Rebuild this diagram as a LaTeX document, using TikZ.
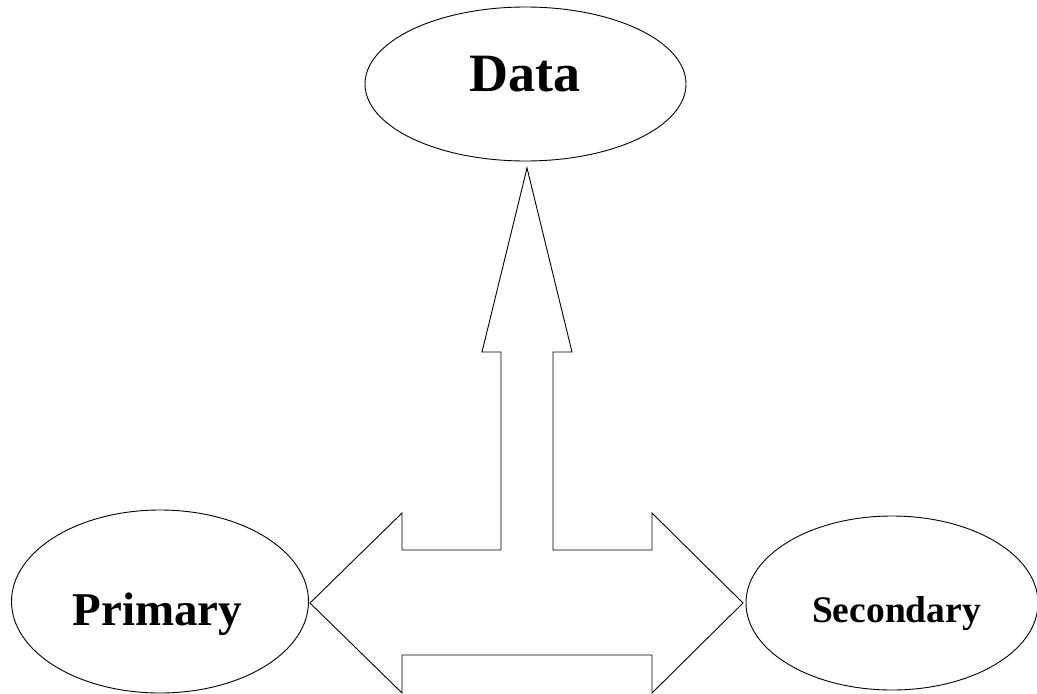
\documentclass[tikz,border=0pt]{standalone}
\usepackage{fontspec}
\setmainfont{Liberation Serif}
\usetikzlibrary{shapes.geometric}
\tikzset{
  blob/.style={draw=black, line width=0.9pt, ellipse, inner sep=0pt, fill=white},
  caption/.style={font=\bfseries, anchor=base, inner sep=0pt},
  bigarrow/.style={draw=black, line width=0.9pt, line join=miter, fill=white}
}
\begin{document}
\begin{tikzpicture}[x=1pt,y=-1pt]
  \clip (0,0) rectangle (1037,694);
  \fill[white] (0,0) rectangle (1037,694);

  % the three ellipses
  \node[blob, minimum width=321pt, minimum height=154pt] (data) at (525.5,84) {};
  \node[blob, minimum width=297pt, minimum height=183pt] (primary) at (160,601.5) {};
  \node[blob, minimum width=292pt, minimum height=174pt] (secondary) at (892,603) {};

  % their labels
  \node[caption, font=\bfseries\fontsize{54}{60}\selectfont] (datalabel) at (525,91) {Data};
  \node[caption, font=\bfseries\fontsize{47}{52}\selectfont] (primarylabel) at (157.5,625) {Primary};
  \node[caption, font=\bfseries\fontsize{37.5}{42}\selectfont] (secondarylabel) at (896.5,622) {Secondary};

  % corner points of the three-way block arrow
  \coordinate (up) at (527,168);
  \coordinate (left) at (310,603);
  \coordinate (right) at (743,603);

  \draw[bigarrow]
    (up) -- (572,352) -- (553,352) -- (553,550) -- (652,550) -- (652,513)
    -- (right) -- (652,693) -- (652,655) -- (402,655) -- (402,693)
    -- (left) -- (402,513) -- (402,550) -- (501,550) -- (501,352)
    -- (482,352) -- cycle;
\end{tikzpicture}
\end{document}
